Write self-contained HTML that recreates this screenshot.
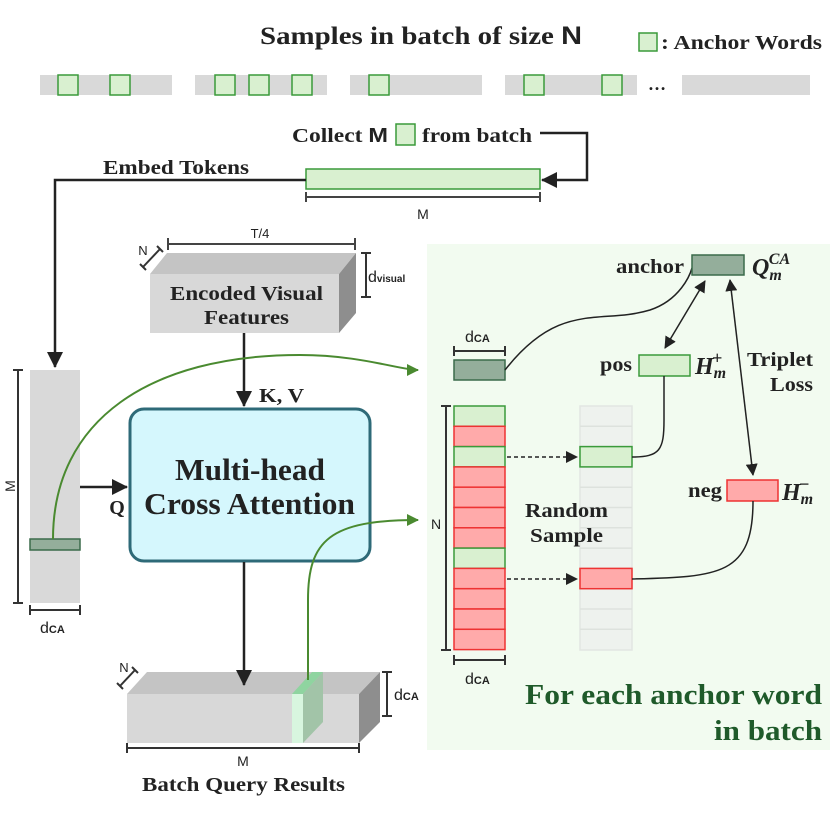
<!DOCTYPE html>
<html><head><meta charset="utf-8"><style>
html,body{margin:0;padding:0;background:#fff;}
svg{display:block;}
.s{font-family:"Liberation Serif",serif;font-weight:bold;fill:#222;}
.a{font-family:"Liberation Sans",sans-serif;fill:#222;}
</style></head><body>
<svg width="830" height="839" viewBox="0 0 830 839" xmlns="http://www.w3.org/2000/svg">
<defs>
<marker id="abl" markerWidth="16" markerHeight="16" refX="15" refY="8" orient="auto" markerUnits="userSpaceOnUse"><path d="M0,0 L16,8 L0,16 z" fill="#222"/></marker>
<marker id="ab2" markerWidth="12" markerHeight="12" refX="11" refY="6" orient="auto-start-reverse" markerUnits="userSpaceOnUse"><path d="M0,0 L12,6 L0,12 z" fill="#222"/></marker>
<marker id="ag" markerWidth="12" markerHeight="12" refX="11" refY="6" orient="auto" markerUnits="userSpaceOnUse"><path d="M0,0 L12,6 L0,12 z" fill="#4a8a30"/></marker>
</defs>

<rect x="427" y="244" width="403" height="506" fill="#f2fbf0"/>

<text x="260" y="44" class="s" font-size="25" textLength="322" lengthAdjust="spacingAndGlyphs">Samples in batch of size <tspan font-family="Liberation Sans">N</tspan></text>
<rect x="639" y="33" width="18" height="18" fill="#d9f0d0" stroke="#3a9a3a" stroke-width="1.5"/>
<text x="661" y="49" class="s" font-size="20" textLength="161" lengthAdjust="spacingAndGlyphs">: Anchor Words</text>

<g fill="#d9d9d9">
<rect x="40" y="75" width="132" height="20"/><rect x="195" y="75" width="132" height="20"/>
<rect x="350" y="75" width="132" height="20"/><rect x="505" y="75" width="132" height="20"/>
<rect x="682" y="75" width="128" height="20"/>
</g>
<g fill="#d9f0d0" stroke="#3a9a3a" stroke-width="1.5">
<rect x="58" y="75" width="20" height="20"/><rect x="110" y="75" width="20" height="20"/>
<rect x="215" y="75" width="20" height="20"/><rect x="249" y="75" width="20" height="20"/><rect x="292" y="75" width="20" height="20"/>
<rect x="369" y="75" width="20" height="20"/>
<rect x="524" y="75" width="20" height="20"/><rect x="602" y="75" width="20" height="20"/>
</g>
<text x="657" y="90" text-anchor="middle" class="s" font-size="18">…</text>

<text x="292" y="142" class="s" font-size="20" textLength="96" lengthAdjust="spacingAndGlyphs">Collect <tspan font-family="Liberation Sans">M</tspan></text>
<rect x="396" y="124" width="19" height="21" fill="#d9f0d0" stroke="#3a9a3a" stroke-width="1.5"/>
<text x="422" y="142" class="s" font-size="20" textLength="110" lengthAdjust="spacingAndGlyphs">from batch</text>
<path d="M540,133 H587 V180 H542" fill="none" stroke="#222" stroke-width="2.5" marker-end="url(#abl)"/>
<rect x="306" y="169" width="234" height="20" fill="#d9f0d0" stroke="#3a9a3a" stroke-width="1.5"/>
<path d="M306,192 V202 M306,197 H540 M540,192 V202" stroke="#444" stroke-width="2" fill="none"/>
<text x="423" y="219" text-anchor="middle" class="a" font-size="14">M</text>
<text x="103" y="174" class="s" font-size="20" textLength="146" lengthAdjust="spacingAndGlyphs">Embed Tokens</text>
<path d="M306,180 H55 V367" fill="none" stroke="#222" stroke-width="2.5" marker-end="url(#abl)"/>

<rect x="30" y="370" width="50" height="233" fill="#d9d9d9"/>
<rect x="30" y="539" width="50" height="11" fill="#94ae9b" stroke="#3b6b4b" stroke-width="1.5"/>
<path d="M13,370 H23 M18,370 V603 M13,603 H23" stroke="#333" stroke-width="2" fill="none"/>
<text transform="translate(15,486) rotate(-90)" text-anchor="middle" class="a" font-size="14">M</text>
<path d="M30,605 V615 M30,610 H80 M80,605 V615" stroke="#333" stroke-width="2" fill="none"/>
<text x="40" y="633" class="a" font-size="16">d<tspan font-size="11" font-weight="bold">CA</tspan></text>

<path d="M80,487 H127" stroke="#222" stroke-width="2.5" marker-end="url(#abl)"/>
<text x="117" y="514" text-anchor="middle" class="s" font-size="20">Q</text>

<polygon points="150,274 167,253 356,253 339,274" fill="#c4c4c4"/>
<polygon points="339,274 356,253 356,313 339,333" fill="#8e8e8e"/>
<rect x="150" y="274" width="189" height="59" fill="#d8d8d8"/>
<text x="170" y="300" class="s" font-size="20" textLength="153" lengthAdjust="spacingAndGlyphs">Encoded Visual</text>
<text x="204" y="324" class="s" font-size="20" textLength="85" lengthAdjust="spacingAndGlyphs">Features</text>
<path d="M168,238 V250 M168,244 H355 M355,238 V250" stroke="#444" stroke-width="2" fill="none"/>
<text x="260" y="238" text-anchor="middle" class="a" font-size="13">T/4</text>
<path d="M143,267 L160,249 M140,264 L146,270 M157,246 L163,252" stroke="#333" stroke-width="2" fill="none"/>
<text x="143" y="255" text-anchor="middle" class="a" font-size="13">N</text>
<path d="M361,253 H371 M366,253 V297 M361,297 H371" stroke="#333" stroke-width="2" fill="none"/>
<text x="368" y="282" class="a" font-size="16">d<tspan font-size="10" font-weight="bold">visual</tspan></text>

<path d="M244,333 V406" stroke="#222" stroke-width="2.5" marker-end="url(#abl)"/>
<text x="259" y="402" class="s" font-size="20" textLength="45" lengthAdjust="spacingAndGlyphs">K, V</text>

<rect x="130" y="409" width="240" height="152" rx="14" fill="#d5f7fd" stroke="#2e6a78" stroke-width="3"/>
<text x="175" y="480" class="s" font-size="31" textLength="150" lengthAdjust="spacingAndGlyphs">Multi-head</text>
<text x="144" y="514" class="s" font-size="31" textLength="211" lengthAdjust="spacingAndGlyphs">Cross Attention</text>

<polygon points="127,694 147,672 380,672 359,694" fill="#c4c4c4"/>
<polygon points="359,694 380,672 380,722 359,743" fill="#8e8e8e"/>
<rect x="127" y="694" width="232" height="49" fill="#d8d8d8"/>
<rect x="292" y="694" width="11" height="49" fill="#d8f6df"/>
<polygon points="292,694 312,672 323,672 303,694" fill="#8fd4a0"/>
<polygon points="303,694 323,672 323,722 303,743" fill="#a2c4a8"/>
<path d="M127,743 V753 M127,748 H359 M359,743 V753" stroke="#333" stroke-width="2" fill="none"/>
<text x="243" y="766" text-anchor="middle" class="a" font-size="14">M</text>
<text x="142" y="791" class="s" font-size="20" textLength="203" lengthAdjust="spacingAndGlyphs">Batch Query Results</text>
<path d="M120,686 L135,670 M117,683 L123,689 M132,667 L138,673" stroke="#333" stroke-width="2" fill="none"/>
<text x="124" y="672" text-anchor="middle" class="a" font-size="13">N</text>
<path d="M382,672 H392 M387,672 V716 M382,716 H392" stroke="#333" stroke-width="2" fill="none"/>
<text x="394" y="700" class="a" font-size="16">d<tspan font-size="11" font-weight="bold">CA</tspan></text>

<path d="M244,562 V685" stroke="#222" stroke-width="2.5" marker-end="url(#abl)"/>

<path d="M53,539 C53,420 150,355 300,355 C360,355 400,370 418,370" fill="none" stroke="#4a8a30" stroke-width="2" marker-end="url(#ag)"/>
<path d="M308,680 V600 C308,540 330,520 418,520" fill="none" stroke="#4a8a30" stroke-width="2" marker-end="url(#ag)"/>

<path d="M454,346 V356 M454,351 H505 M505,346 V356" stroke="#333" stroke-width="2" fill="none"/>
<text x="465" y="342" class="a" font-size="16">d<tspan font-size="11" font-weight="bold">CA</tspan></text>
<rect x="454" y="360" width="51" height="20" fill="#94ae9b" stroke="#3b6b4b" stroke-width="1.5"/>
<path d="M505,370 C560,300 600,325 650,310 C680,300 690,275 692,268" fill="none" stroke="#222" stroke-width="1.5"/>

<rect x="692" y="255" width="52" height="20" fill="#94ae9b" stroke="#3b6b4b" stroke-width="1.5"/>
<text x="616" y="273" class="s" font-size="20" textLength="68" lengthAdjust="spacingAndGlyphs">anchor</text>
<text x="752" y="275" class="s" font-size="24" font-style="italic">Q<tspan font-size="16" dy="5">m</tspan><tspan font-size="16" dx="-13" dy="-16">CA</tspan></text>

<rect x="639" y="355" width="51" height="21" fill="#d9f0d0" stroke="#3a9a3a" stroke-width="1.5"/>
<text x="600" y="371" class="s" font-size="20" textLength="32" lengthAdjust="spacingAndGlyphs">pos</text>
<text x="695" y="374" class="s" font-size="24" font-style="italic">H<tspan font-size="16" dy="4">m</tspan><tspan font-size="18" dx="-14" dy="-14" font-style="normal">+</tspan></text>
<text x="747" y="366" class="s" font-size="20" textLength="66" lengthAdjust="spacingAndGlyphs">Triplet</text>
<text x="770" y="391" class="s" font-size="20" textLength="43" lengthAdjust="spacingAndGlyphs">Loss</text>

<path d="M665,348 L705,281" stroke="#222" stroke-width="1.5" marker-start="url(#ab2)" marker-end="url(#ab2)"/>
<path d="M730,280 L753,475" stroke="#222" stroke-width="1.5" marker-start="url(#ab2)" marker-end="url(#ab2)"/>

<rect x="727" y="480" width="51" height="21" fill="#ffaaaa" stroke="#ee3333" stroke-width="1.5"/>
<text x="688" y="497" class="s" font-size="20" textLength="34" lengthAdjust="spacingAndGlyphs">neg</text>
<text x="782" y="500" class="s" font-size="24" font-style="italic">H<tspan font-size="16" dy="4">m</tspan><tspan font-size="18" dx="-14" dy="-14" font-style="normal">−</tspan></text>

<g stroke-width="1.5">
<rect x="454" y="406" width="51" height="20.3" fill="#d9f0d0" stroke="#3a9a3a"/>
<rect x="454" y="426.3" width="51" height="20.3" fill="#ffaaaa" stroke="#ee3333"/>
<rect x="454" y="446.6" width="51" height="20.3" fill="#d9f0d0" stroke="#3a9a3a"/>
<rect x="454" y="466.9" width="51" height="20.3" fill="#ffaaaa" stroke="#ee3333"/>
<rect x="454" y="487.2" width="51" height="20.3" fill="#ffaaaa" stroke="#ee3333"/>
<rect x="454" y="507.5" width="51" height="20.3" fill="#ffaaaa" stroke="#ee3333"/>
<rect x="454" y="527.8" width="51" height="20.3" fill="#ffaaaa" stroke="#ee3333"/>
<rect x="454" y="548.1" width="51" height="20.3" fill="#d9f0d0" stroke="#3a9a3a"/>
<rect x="454" y="568.4" width="51" height="20.3" fill="#ffaaaa" stroke="#ee3333"/>
<rect x="454" y="588.7" width="51" height="20.3" fill="#ffaaaa" stroke="#ee3333"/>
<rect x="454" y="609" width="51" height="20.3" fill="#ffaaaa" stroke="#ee3333"/>
<rect x="454" y="629.3" width="51" height="20.3" fill="#ffaaaa" stroke="#ee3333"/>
</g>
<path d="M441,406 H451 M446,406 V650 M441,650 H451" stroke="#333" stroke-width="2" fill="none"/>
<text x="436" y="529" text-anchor="middle" class="a" font-size="14">N</text>
<path d="M454,655 V665 M454,660 H505 M505,655 V665" stroke="#333" stroke-width="2" fill="none"/>
<text x="465" y="684" class="a" font-size="16">d<tspan font-size="11" font-weight="bold">CA</tspan></text>

<rect x="580" y="406" width="52" height="244" fill="#eef2ee" stroke="#e2e6e2" stroke-width="1.5"/>
<path d="M580,426.3 H632 M580,446.6 H632 M580,466.9 H632 M580,487.2 H632 M580,507.5 H632 M580,527.8 H632 M580,548.1 H632 M580,568.4 H632 M580,588.7 H632 M580,609 H632 M580,629.3 H632" stroke="#dde2dd" stroke-width="1.5"/>
<rect x="580" y="446.6" width="52" height="20.3" fill="#d9f0d0" stroke="#3a9a3a" stroke-width="1.5"/>
<rect x="580" y="568.4" width="52" height="20.3" fill="#ffaaaa" stroke="#ee3333" stroke-width="1.5"/>
<path d="M507,457 H577" stroke="#222" stroke-width="1.5" stroke-dasharray="4,3" marker-end="url(#ab2)"/>
<path d="M507,579 H577" stroke="#222" stroke-width="1.5" stroke-dasharray="4,3" marker-end="url(#ab2)"/>
<text x="525" y="517" class="s" font-size="20" textLength="83" lengthAdjust="spacingAndGlyphs">Random</text>
<text x="530" y="542" class="s" font-size="20" textLength="73" lengthAdjust="spacingAndGlyphs">Sample</text>
<path d="M632,457 C660,457 664,450 664,420 V376" fill="none" stroke="#222" stroke-width="1.5"/>
<path d="M632,579 C720,577 753,575 753,501" fill="none" stroke="#222" stroke-width="1.5"/>

<text x="525" y="704" class="s" font-size="28" style="fill:#1f5a2a" textLength="297" lengthAdjust="spacingAndGlyphs">For each anchor word</text>
<text x="714" y="740" class="s" font-size="28" style="fill:#1f5a2a" textLength="108" lengthAdjust="spacingAndGlyphs">in batch</text>
</svg>
</body></html>
